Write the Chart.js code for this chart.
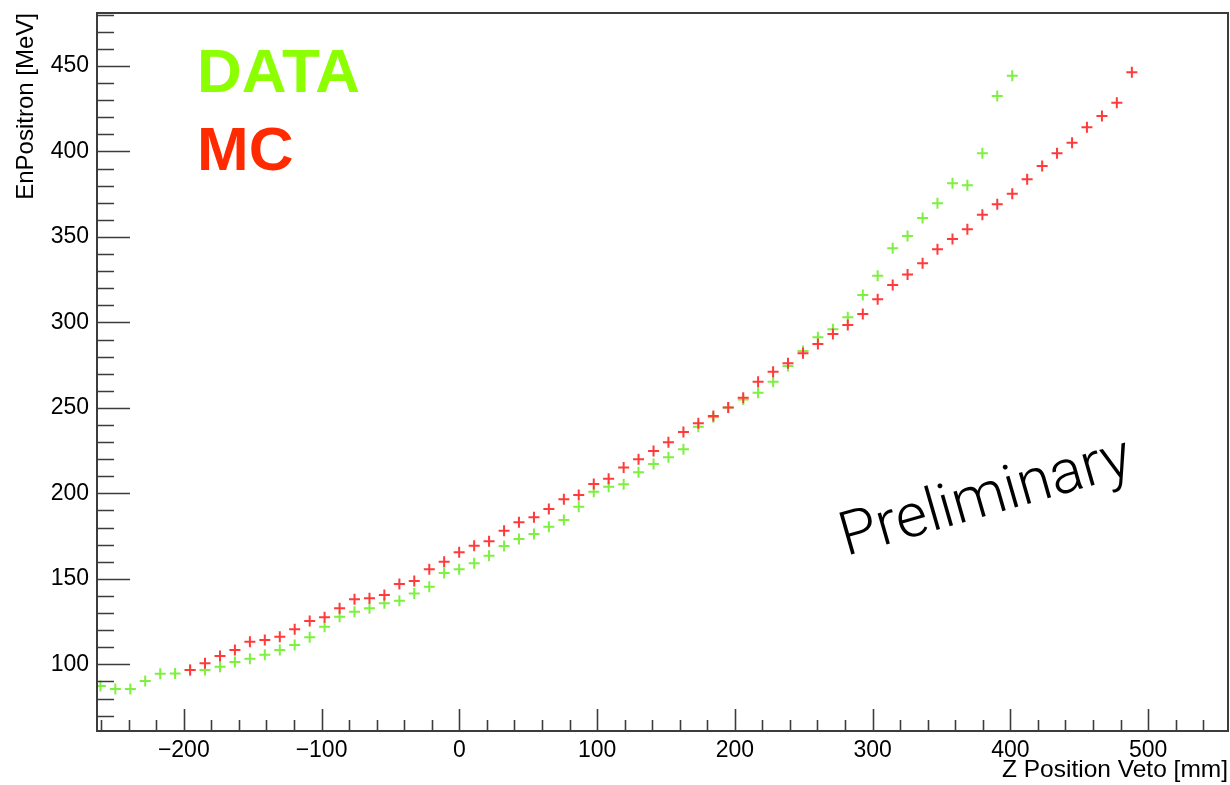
<!DOCTYPE html>
<html>
<head>
<meta charset="utf-8">
<title>EnPositron vs Z Position Veto</title>
<script src="https://cdn.jsdelivr.net/npm/chart.js@4.4.1/dist/chart.umd.min.js"></script>
<style>
  html, body { margin: 0; padding: 0; background: #fff; }
  #wrap { width: 1230px; height: 785px; }
</style>
</head>
<body>
<div id="wrap"><canvas id="chart" width="1230" height="785"></canvas></div>
<script>
// -----------------------
// Data (bin centres in mm, energies in MeV)
// -----------------------
const zBins = [
  -260.5, -249.7, -238.8, -228.0, -217.1, -206.3, -195.4, -184.6, -173.7, -162.9,
  -152.0, -141.2, -130.3, -119.5, -108.6, -97.8, -86.9, -76.1, -65.2, -54.4,
  -43.5, -32.7, -21.8, -11.0, -0.1, 10.8, 21.6, 32.5, 43.3, 54.2,
  65.0, 75.9, 86.7, 97.6, 108.4, 119.3, 130.1, 141.0, 151.8, 162.7,
  173.5, 184.4, 195.2, 206.1, 216.9, 227.8, 238.6, 249.5, 260.3, 271.2,
  282.0, 292.9, 303.7, 314.6, 325.4, 336.3, 347.1, 358.0, 368.8, 379.7,
  390.5, 401.4, 412.2, 423.1, 433.9, 444.8, 455.6, 466.5, 477.3, 488.2
];

// DATA covers the first 62 bins
const zData = zBins.slice(0, 62);
const eData = [
  87.3, 85.6, 85.6, 90.2, 94.5, 94.7, 96.7, 96.7, 98.6, 101.3,
  103.3, 105.6, 108.4, 111.3, 115.8, 122.0, 127.8, 130.8, 132.8, 135.7,
  137.2, 141.5, 145.4, 153.4, 155.6, 159.1, 163.5, 169.2, 173.3, 176.2,
  180.5, 184.4, 192.2, 201.0, 203.9, 205.3, 212.3, 217.2, 221.1, 225.8,
  239.0, 244.5, 250.3, 254.9, 258.9, 265.3, 274.5, 283.3, 291.3, 296.0,
  303.0, 316.0, 327.3, 343.4, 350.6, 361.1, 369.7, 381.4, 380.2, 398.9,
  432.5, 444.3
];

// MC starts at bin 6
const zMC = zBins.slice(6);
const eMC = [
  96.7, 100.6, 104.9, 108.4, 113.2, 114.2, 116.1, 120.5, 125.3, 127.5,
  132.8, 138.0, 138.6, 140.5, 147.0, 148.7, 155.6, 160.0, 165.5, 169.4,
  172.0, 178.2, 183.1, 186.0, 190.9, 196.5, 199.0, 205.5, 208.6, 215.2,
  219.9, 224.8, 229.9, 235.9, 241.0, 245.3, 250.3, 255.9, 265.3, 271.2,
  276.1, 281.9, 287.4, 293.2, 298.5, 304.9, 313.5, 321.9, 328.1, 334.6,
  342.8, 348.8, 354.5, 363.0, 369.1, 375.3, 383.7, 391.5, 398.9, 405.1,
  414.1, 420.8, 428.5, 446.3
];

// Axis ticks
const xMajor = [-200, -100, 0, 100, 200, 300, 400, 500];
const yMajor = [100, 150, 200, 250, 300, 350, 400, 450];
const X_MIN = -263, X_MAX = 558;
const Y_MIN = 61, Y_MAX = 481;

const FONT = '"Liberation Sans", Arial, Helvetica, sans-serif';
const AXIS_COLOR = '#3c3c3c';
const DATA_COLOR = '#8cff00';
const MC_COLOR = '#ff2a00';
const DATA_MARK = '#7ef040';
const MC_MARK = '#ff3a3a';

Chart.defaults.font.family = FONT;
Chart.defaults.color = '#000';

function toPoints(xs, ys) {
  return xs.map((x, i) => ({ x: x, y: ys[i] }));
}

// no automatic label overhang padding, the frame is placed by hand
function noOverhang(s) {
  s.paddingLeft = 0;
  s.paddingRight = 0;
  s.paddingTop = 0;
  s.paddingBottom = 0;
}

// -----------------------
// ROOT style frame, inside ticks and labels
// -----------------------
const rootFrame = {
  id: 'rootFrame',
  afterDraw(chart) {
    const { ctx, chartArea: a, scales } = chart;
    const sx = scales.x, sy = scales.y;
    ctx.save();
    ctx.strokeStyle = AXIS_COLOR;
    ctx.lineWidth = 2;
    ctx.strokeRect(a.left, a.top, a.right - a.left, a.bottom - a.top);

    ctx.lineWidth = 1.6;
    ctx.beginPath();
    // y ticks every 10, long at every 50
    for (let v = 70; v <= 480; v += 10) {
      const py = Math.round(sy.getPixelForValue(v)) + 0.5;
      const len = v % 50 === 0 ? 33 : 17;
      ctx.moveTo(a.left, py);
      ctx.lineTo(a.left + len, py);
    }
    // x ticks every 20, long at every 100
    for (let v = -260; v <= 540; v += 20) {
      const px = Math.round(sx.getPixelForValue(v)) + 0.5;
      const len = v % 100 === 0 ? 22 : 11;
      ctx.moveTo(px, a.bottom);
      ctx.lineTo(px, a.bottom - len);
    }
    ctx.stroke();

    // sample labels
    ctx.font = 'bold 62px ' + FONT;
    ctx.textAlign = 'left';
    ctx.textBaseline = 'alphabetic';
    ctx.fillStyle = DATA_COLOR;
    ctx.fillText('DATA', 197, 92);
    ctx.fillStyle = MC_COLOR;
    ctx.fillText('MC', 197, 170);

    // watermark
    ctx.translate(846, 556);
    ctx.rotate(-16 * Math.PI / 180);
    ctx.font = '300 61px Roboto, Lato, ' + FONT;
    ctx.fillStyle = '#000';
    ctx.fillText('Preliminary', 0, 0);
    ctx.restore();
  }
};

new Chart(document.getElementById('chart').getContext('2d'), {
  type: 'scatter',
  data: {
    datasets: [
      {
        label: 'MC',
        data: toPoints(zMC, eMC),
        pointStyle: 'cross',
        pointRadius: 5.5,
        pointBorderWidth: 2,
        borderColor: MC_MARK,
        backgroundColor: MC_MARK
      },
      {
        label: 'DATA',
        data: toPoints(zData, eData),
        pointStyle: 'cross',
        pointRadius: 5.5,
        pointBorderWidth: 2,
        borderColor: DATA_MARK,
        backgroundColor: DATA_MARK
      }
    ]
  },
  options: {
    responsive: false,
    animation: false,
    layout: { autoPadding: false, padding: { left: 0, right: 2, top: 13, bottom: 0 } },
    plugins: {
      legend: { display: false },
      tooltip: { enabled: false }
    },
    scales: {
      x: {
        type: 'linear',
        min: X_MIN,
        max: X_MAX,
        grid: { display: false, drawTicks: false },
        border: { display: false },
        afterBuildTicks: s => { s.ticks = xMajor.map(v => ({ value: v })); },
        afterFit: s => { s.height = 54; noOverhang(s); },
        ticks: {
          font: { size: 23 },
          color: '#000',
          padding: 6,
          maxRotation: 0,
          autoSkip: false,
          callback: v => String(v).replace('-', '\u2212')
        },
        title: {
          display: true,
          text: 'Z Position Veto [mm]',
          align: 'end',
          color: '#000',
          font: { size: 24.5 },
          padding: { top: 0, bottom: 0 }
        }
      },
      y: {
        type: 'linear',
        min: Y_MIN,
        max: Y_MAX,
        grid: { display: false, drawTicks: false },
        border: { display: false },
        afterBuildTicks: s => { s.ticks = yMajor.map(v => ({ value: v })); },
        afterFit: s => { s.width = 97; noOverhang(s); },
        ticks: {
          font: { size: 23 },
          color: '#000',
          padding: 8,
          autoSkip: false
        },
        title: {
          display: true,
          text: 'EnPositron [MeV]',
          align: 'end',
          color: '#000',
          font: { size: 24 },
          padding: { top: 12, bottom: 0 }
        }
      }
    }
  },
  plugins: [rootFrame]
});
</script>
</body>
</html>
